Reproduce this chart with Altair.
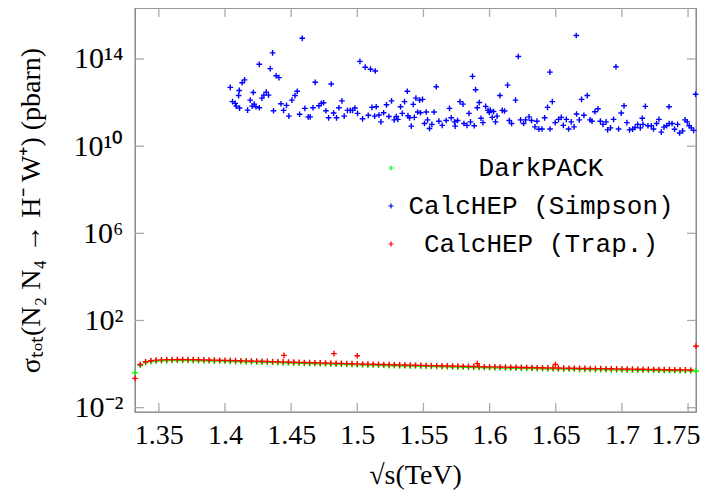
import altair as alt
import pandas as pd

# ---------------- data ----------------
series_names = ["DarkPACK", "CalcHEP (Simpson)", "CalcHEP (Trap.)"]
series_colors = ["#00ff00", "#0000ff", "#ff0000"]

sqrt_s_grid = [
    1.332, 1.336, 1.340, 1.344, 1.348, 1.352, 1.356, 1.360, 1.364, 1.368,
    1.372, 1.376, 1.380, 1.384, 1.388, 1.392, 1.396, 1.400, 1.404, 1.408,
    1.412, 1.416, 1.420, 1.424, 1.428, 1.432, 1.436, 1.440, 1.444, 1.448,
    1.452, 1.456, 1.460, 1.464, 1.468, 1.472, 1.476, 1.480, 1.484, 1.488,
    1.492, 1.496, 1.500, 1.504, 1.508, 1.512, 1.516, 1.520, 1.524, 1.528,
    1.532, 1.536, 1.540, 1.544, 1.548, 1.552, 1.556, 1.560, 1.564, 1.568,
    1.572, 1.576, 1.580, 1.584, 1.588, 1.592, 1.596, 1.600, 1.604, 1.608,
    1.612, 1.616, 1.620, 1.624, 1.628, 1.632, 1.636, 1.640, 1.644, 1.648,
    1.652, 1.656, 1.660, 1.664, 1.668, 1.672, 1.676, 1.680, 1.684, 1.688,
    1.692, 1.696, 1.700, 1.704, 1.708, 1.712, 1.716, 1.720, 1.724, 1.728,
    1.732, 1.736, 1.740, 1.744, 1.748, 1.752, 1.756,
]

darkpack_sigma = [
    0.40, 0.88, 1.17, 1.30, 1.37, 1.41, 1.44, 1.45, 1.46, 1.46,
    1.45, 1.44, 1.43, 1.41, 1.39, 1.37, 1.36, 1.34, 1.32, 1.30,
    1.28, 1.27, 1.25, 1.23, 1.21, 1.19, 1.18, 1.16, 1.14, 1.12,
    1.10, 1.09, 1.07, 1.05, 1.04, 1.02, 1.01, 0.99, 0.98, 0.97,
    0.95, 0.94, 0.92, 0.91, 0.90, 0.89, 0.88, 0.86, 0.85, 0.84,
    0.83, 0.82, 0.81, 0.80, 0.79, 0.78, 0.77, 0.76, 0.75, 0.74,
    0.73, 0.72, 0.715, 0.705, 0.70, 0.69, 0.68, 0.675, 0.67, 0.66,
    0.65, 0.645, 0.64, 0.635, 0.63, 0.625, 0.615, 0.61, 0.605, 0.60,
    0.595, 0.59, 0.585, 0.58, 0.575, 0.57, 0.565, 0.56, 0.555, 0.55,
    0.545, 0.54, 0.535, 0.53, 0.527, 0.523, 0.52, 0.515, 0.51, 0.505,
    0.50, 0.497, 0.494, 0.49, 0.487, 0.484, 0.48,
]

trap_sigma = [
    0.22, 0.95, 1.28, 1.43, 1.51, 1.56, 1.59, 1.60, 1.61, 1.61,
    1.60, 1.59, 1.58, 1.56, 1.54, 1.52, 1.50, 1.48, 1.46, 1.44,
    1.42, 1.40, 1.38, 1.36, 1.34, 1.32, 1.30, 1.28, 1.26, 1.24,
    1.22, 1.20, 1.18, 1.16, 1.15, 1.13, 1.12, 1.10, 1.08, 1.07,
    1.05, 1.04, 1.02, 1.01, 0.99, 0.98, 0.97, 0.95, 0.94, 0.93,
    0.92, 0.90, 0.89, 0.88, 0.87, 0.86, 0.85, 0.84, 0.83, 0.82,
    0.81, 0.80, 0.79, 0.78, 0.77, 0.76, 0.75, 0.745, 0.74, 0.73,
    0.72, 0.715, 0.71, 0.70, 0.695, 0.69, 0.68, 0.675, 0.67, 0.66,
    0.655, 0.65, 0.645, 0.64, 0.635, 0.63, 0.625, 0.62, 0.615, 0.61,
    0.605, 0.60, 0.595, 0.59, 0.585, 0.58, 0.575, 0.57, 0.565, 0.56,
    0.556, 0.552, 0.548, 0.544, 0.54, 0.536, 6.6,
]

trap_extra_x = [1.4446, 1.4824, 1.5000, 1.5907, 1.6497]
trap_extra_sigma = [2.5, 3.0, 2.4, 1.05, 0.95]

simpson_x = [
    1.4040, 1.4057, 1.4078, 1.4085, 1.4103, 1.4108, 1.4110, 1.4130, 1.4148, 1.4171,
    1.4191, 1.4206, 1.4214, 1.4221, 1.4234, 1.4259, 1.4260, 1.4279, 1.4294, 1.4312,
    1.4329, 1.4342, 1.4360, 1.4367, 1.4387, 1.4408, 1.4423, 1.4443, 1.4465, 1.4483,
    1.4506, 1.4529, 1.4546, 1.4564, 1.4584, 1.4604, 1.4629, 1.4644, 1.4665, 1.4682,
    1.4710, 1.4728, 1.4745, 1.4763, 1.4783, 1.4803, 1.4821, 1.4843, 1.4861, 1.4884,
    1.4901, 1.4926, 1.4947, 1.4964, 1.4982, 1.5002, 1.5020, 1.5040, 1.5060, 1.5083,
    1.5100, 1.5111, 1.5131, 1.5136, 1.5143, 1.5164, 1.5179, 1.5199, 1.5221, 1.5239,
    1.5259, 1.5279, 1.5295, 1.5307, 1.5327, 1.5340, 1.5357, 1.5378, 1.5383, 1.5395,
    1.5408, 1.5423, 1.5431, 1.5443, 1.5456, 1.5471, 1.5478, 1.5493, 1.5508, 1.5521,
    1.5531, 1.5546, 1.5564, 1.5580, 1.5597, 1.5617, 1.5642, 1.5672, 1.5697, 1.5710,
    1.5735, 1.5740, 1.5758, 1.5776, 1.5799, 1.5806, 1.5829, 1.5844, 1.5856, 1.5871,
    1.5884, 1.5894, 1.5907, 1.5922, 1.5935, 1.5950, 1.5970, 1.5988, 1.5998, 1.6005,
    1.6020, 1.6030, 1.6045, 1.6056, 1.6078, 1.6096, 1.6113, 1.6136, 1.6149, 1.6166,
    1.6196, 1.6217, 1.6234, 1.6257, 1.6272, 1.6298, 1.6317, 1.6343, 1.6358, 1.6373,
    1.6396, 1.6416, 1.6438, 1.6456, 1.6457, 1.6474, 1.6496, 1.6521, 1.6542, 1.6557,
    1.6580, 1.6597, 1.6617, 1.6638, 1.6655, 1.6657, 1.6678, 1.6695, 1.6713, 1.6738,
    1.6759, 1.6774, 1.6796, 1.6819, 1.6837, 1.6857, 1.6880, 1.6892, 1.6914, 1.6937,
    1.6955, 1.6975, 1.6995, 1.7016, 1.7038, 1.7058, 1.7081, 1.7099, 1.7119, 1.7139,
    1.7154, 1.7159, 1.7177, 1.7197, 1.7222, 1.7239, 1.7262, 1.7280, 1.7298, 1.7318,
    1.7338, 1.7356, 1.7357, 1.7379, 1.7398, 1.7421, 1.7436, 1.7459, 1.7477, 1.7494,
    1.7509, 1.7524, 1.7542, 1.7557,
]
simpson_sigma = [
    5.0e12, 1.1e12, 9.2e11, 6.9e11, 2.1e12, 3.6e12, 5.6e11, 8.1e12, 1.1e13, 4.5e11,
    1.3e12, 6.9e11, 2.9e12, 8.5e11, 6.4e11, 5.7e13, 5.8e11, 1.6e12, 2.2e12, 3.0e12,
    2.2e12, 3.6e13, 1.9e14, 4.2e11, 1.7e13, 1.4e13, 8.8e11, 4.4e11, 7.4e11, 2.4e11,
    1.3e12, 2.1e12, 3.3e12, 2.9e11, 8.9e14, 5.4e11, 2.2e11, 2.2e11, 5.8e11, 8.5e12,
    7.1e11, 9.2e11, 9.8e11, 4.2e11, 2.0e11, 7.1e12, 3.3e11, 2.0e11, 5.8e11, 1.2e12,
    2.4e11, 4.4e11, 4.4e11, 4.4e11, 5.6e11, 3.2e11, 7.8e13, 1.8e11, 4.2e13, 2.6e11,
    3.4e13, 6.0e11, 2.4e11, 2.8e13, 6.4e11, 2.7e11, 1.3e11, 3.4e11, 7.9e11, 2.3e11,
    1.2e12, 1.6e11, 2.3e11, 1.7e11, 6.4e11, 3.2e11, 1.1e12, 3.3e12, 2.5e11, 2.0e11,
    8.3e10, 8.3e11, 2.1e11, 1.6e12, 3.7e11, 1.3e12, 3.4e11, 1.4e12, 1.1e11, 3.7e11,
    1.6e11, 6.5e10, 1.0e11, 3.7e11, 5.3e12, 1.4e11, 9.0e10, 1.5e11, 5.4e11, 2.0e11,
    1.3e11, 8.3e10, 1.5e11, 1.1e12, 8.5e11, 1.1e11, 9.0e10, 3.2e11, 1.3e11, 1.6e13,
    8.6e10, 3.9e12, 5.8e11, 1.0e12, 1.9e11, 1.2e11, 6.7e11, 4.4e11, 3.5e11, 4.5e11,
    2.1e11, 3.9e11, 1.3e11, 2.4e11, 2.1e12, 4.4e11, 4.1e11, 6.3e12, 1.5e11, 1.1e11,
    1.3e12, 1.3e14, 1.6e11, 1.1e11, 1.6e11, 2.2e11, 1.5e11, 7.7e10, 1.4e11, 6.0e10,
    6.1e10, 2.0e11, 6.0e11, 2.5e13, 6.1e10, 1.1e12, 1.2e11, 1.7e11, 2.1e11, 9.0e10,
    1.7e11, 6.1e10, 1.3e11, 7.7e10, 1.2e15, 3.0e11, 1.6e11, 1.4e12, 2.6e11, 2.1e12,
    1.6e11, 1.4e11, 3.8e11, 5.2e11, 1.4e11, 1.0e11, 1.3e11, 5.6e10, 6.9e10, 1.7e11,
    4.4e13, 6.1e10, 3.3e11, 7.1e11, 1.2e11, 5.6e10, 6.0e10, 7.2e10, 1.0e11, 6.9e10,
    1.9e11, 1.0e11, 6.7e11, 8.6e10, 8.6e10, 6.1e10, 1.1e11, 1.7e11, 4.4e10, 7.5e10,
    8.6e10, 6.4e11, 1.1e11, 1.1e11, 6.0e10, 1.0e11, 4.0e10, 5.0e10, 1.6e11, 1.3e11,
    8.6e10, 6.9e10, 5.3e10, 2.4e12,
]

x_ticks = [1.35, 1.40, 1.45, 1.50, 1.55, 1.60, 1.65, 1.70, 1.75]
y_ticks = [1e-2, 1e2, 1e6, 1e10, 1e14]
y_tick_exponents = [-2, 2, 6, 10, 14]
y_tick_labels = ["10\u207b\u00b2", "10\u00b2", "10\u2076", "10\u00b9\u2070", "10\u00b9\u2074"]

# ---------------- table ----------------
rows = []
for x, s in zip(sqrt_s_grid, darkpack_sigma):
    rows.append({"x": x, "sigma": s, "series": series_names[0]})
for x, s in zip(simpson_x, simpson_sigma):
    rows.append({"x": x, "sigma": s, "series": series_names[1]})
for x, s in zip(sqrt_s_grid, trap_sigma):
    rows.append({"x": x, "sigma": s, "series": series_names[2]})
for x, s in zip(trap_extra_x, trap_extra_sigma):
    rows.append({"x": x, "sigma": s, "series": series_names[2]})
df = pd.DataFrame(rows)
df["order"] = range(len(df))

SERIF = "Liberation Serif"
MONO = "Liberation Mono"
PLUS = "M-1,0L1,0M0,-1L0,1"
W, H = 561, 404
TICK = 9

ylabel_expr = " : ".join(
    f"abs(log(datum.value)/LN10 - ({e})) < 0.5 ? '{lab}'"
    for e, lab in zip(y_tick_exponents, y_tick_labels)
) + " : ''"

x_scale = alt.Scale(domain=[1.332, 1.756], nice=False, zero=False)
y_scale = alt.Scale(type="log", domain=[10 ** -2.2, 10 ** 16.34], nice=False)

points = alt.Chart(df).mark_point(
    shape=PLUS, filled=False, size=32, strokeWidth=1.4, opacity=1
).encode(
    x=alt.X(
        "x:Q", scale=x_scale,
        axis=alt.Axis(
            values=x_ticks, format="~g", ticks=False, grid=False, domain=False,
            labelFont=SERIF, labelFontSize=28, labelColor="black", labelPadding=9,
            labelFlush=12, labelFlushOffset=12,
            title="\u221as(TeV)", titleFont=SERIF, titleFontSize=28,
            titleFontWeight="normal", titleColor="black",
            titleX=280, titleY=63, titleBaseline="middle", titleAlign="center",
        ),
    ),
    y=alt.Y(
        "sigma:Q", scale=y_scale,
        axis=alt.Axis(
            values=y_ticks, labelExpr=ylabel_expr, ticks=False, grid=False, domain=False,
            labelFont=SERIF, labelFontSize=30, labelColor="black", labelPadding=12,
            labelBaseline="middle",
            title="\u03c3\u209c\u2092\u209c(N\u2082 N\u2084 \u2192 H\u207b W\u207a) (pbarn)",
            titleFont=SERIF, titleFontSize=28, titleFontWeight="normal", titleColor="black",
            titleX=-104, titleY=H / 2, titleAngle=-90, titleBaseline="middle", titleAlign="center",
        ),
    ),
    color=alt.Color(
        "series:N",
        scale=alt.Scale(domain=series_names, range=series_colors),
        legend=alt.Legend(
            title=None, orient="none", legendX=243, legendY=147,
            symbolType=PLUS, symbolSize=26, symbolStrokeWidth=1.2,
            labelFont=MONO, labelFontSize=26, labelColor="black",
            labelAlign="center", labelOffset=137, labelLimit=500,
            rowPadding=12, padding=0,
        ),
    ),
    order=alt.Order("order:Q"),
)

tick_style = dict(color="#aaaaaa", strokeWidth=1.3)
xt = pd.DataFrame({"x": x_ticks})
yt = pd.DataFrame({"sigma": y_ticks})
bottom_ticks = alt.Chart(xt).mark_rule(**tick_style).encode(
    x=alt.X("x:Q", scale=x_scale), y=alt.value(H), y2=alt.value(H - TICK))
top_ticks = alt.Chart(xt).mark_rule(**tick_style).encode(
    x=alt.X("x:Q", scale=x_scale), y=alt.value(0), y2=alt.value(TICK))
left_ticks = alt.Chart(yt).mark_rule(**tick_style).encode(
    y=alt.Y("sigma:Q", scale=y_scale), x=alt.value(0), x2=alt.value(TICK))
right_ticks = alt.Chart(yt).mark_rule(**tick_style).encode(
    y=alt.Y("sigma:Q", scale=y_scale), x=alt.value(W), x2=alt.value(W - TICK))

chart = alt.layer(
    points, bottom_ticks, top_ticks, left_ticks, right_ticks
).properties(
    width=W, height=H,
    autosize=alt.AutoSizeParams(type="none"),
    padding={"left": 127, "top": 0, "right": 12, "bottom": 80},
    background="white",
).configure_view(stroke="#777777", strokeWidth=1.3)

chart.save("out.html", embed_options={"renderer": "svg", "actions": False})
